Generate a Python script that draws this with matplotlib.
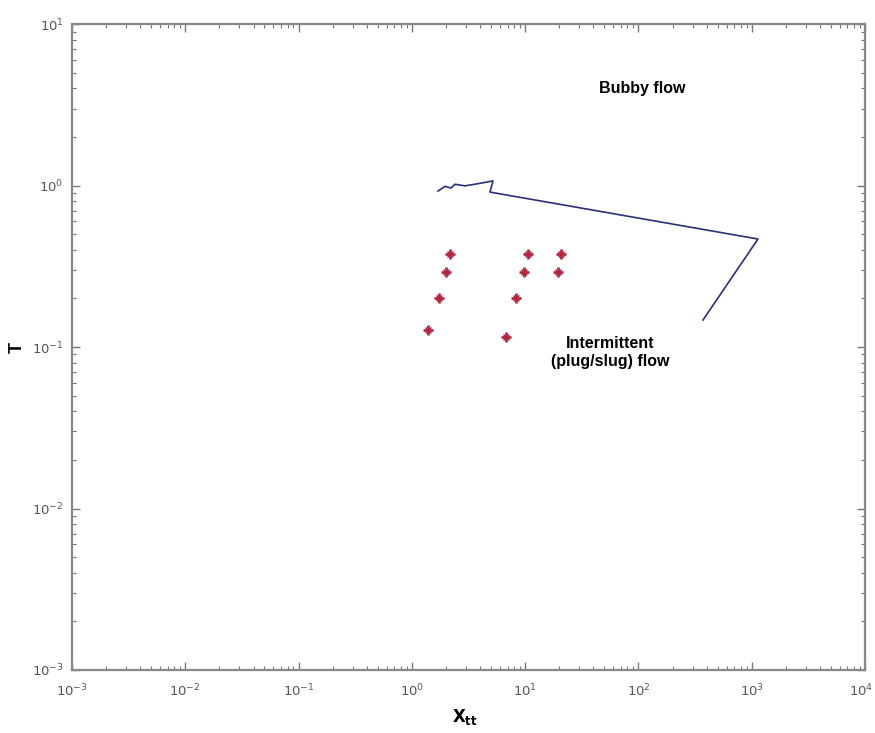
import numpy as np
import matplotlib.pyplot as plt
from matplotlib.ticker import LogLocator, NullFormatter
from matplotlib.transforms import ScaledTranslation

plt.rcParams['font.family'] = ['Liberation Sans', 'DejaVu Sans']

# ── Data ──────────────────────────────────────
# measured points (red markers)
x_pts = [1.39, 1.73, 2.0, 2.17, 6.77, 8.3, 9.75, 10.6, 19.5, 20.7]
T_pts = [0.127, 0.201, 0.291, 0.377, 0.115, 0.201, 0.291, 0.377, 0.291, 0.377]

# transition boundary (blue line)
x_line = [1.70, 1.96, 2.21, 2.40, 2.94, 3.60, 4.51, 5.2, 4.89, 1135, 371]
T_line = [0.925, 0.99, 0.966, 1.02, 0.997, 1.02, 1.05, 1.07, 0.912, 0.467, 0.147]

# axis decades
x_decades = np.arange(-3, 5)
y_decades = np.arange(-3, 2)

fig = plt.figure(figsize=(8.75, 7.33), dpi=100)
ax = fig.add_axes([0.0823, 0.086, 0.9063, 0.881])

ax.plot(x_line, T_line, color="#2b2f78", lw=1.2)
ax.plot(x_pts, T_pts, linestyle="none", marker="+", ms=7, mew=2.0,
        color="#b02840")
ax.plot(x_pts, T_pts, linestyle="none", marker="x", ms=4, mew=1.0,
        color="#b02840")

ax.set_xscale("log")
ax.set_yscale("log")
ax.set_xlim(10.0 ** x_decades[0], 10.0 ** x_decades[-1])
ax.set_ylim(10.0 ** y_decades[0], 10.0 ** y_decades[-1])

ax.set_xticks(10.0 ** x_decades)
ax.set_yticks(10.0 ** y_decades)
ax.set_xticklabels([rf"$10^{{{d}}}$" for d in x_decades])
ax.set_yticklabels([rf"$10^{{{d}}}$" for d in y_decades])
ax.xaxis.set_minor_locator(LogLocator(base=10, subs=np.arange(2, 10), numticks=100))
ax.yaxis.set_minor_locator(LogLocator(base=10, subs=np.arange(2, 10), numticks=100))
ax.xaxis.set_minor_formatter(NullFormatter())
ax.yaxis.set_minor_formatter(NullFormatter())

ax.tick_params(which="both", direction="in", top=True, right=True,
               color="#777777", labelcolor="#555555", labelsize=9.5)
ax.tick_params(which="major", length=6, width=1)
ax.tick_params(which="minor", length=3, width=0.8)
ax.tick_params(axis="x", which="major", pad=9)
ax.tick_params(axis="y", which="major", pad=6)
for s in ax.spines.values():
    s.set_color("#888888")
    s.set_linewidth(1.6)

# keep the last x label inside the figure edge
last = ax.get_xticklabels()[-1]
last.set_transform(last.get_transform() + ScaledTranslation(-0.04, 0, fig.dpi_scale_trans))

ax.text(107, 4.0, "Bubby flow", fontsize=11.5, fontweight="bold",
        ha="center", va="center")
ax.text(56, 0.093, "Intermittent\n(plug/slug) flow", fontsize=11.5,
        fontweight="bold", ha="center", va="center", linespacing=1.25)

ax.set_xlabel(r"$\mathbf{X_{tt}}$", fontsize=12)
ax.set_ylabel("T", fontsize=13, fontweight="bold")
ax.xaxis.set_label_coords(0.495, -0.058)
ax.yaxis.set_label_coords(-0.058, 0.5)

fig.savefig("out.png", dpi=100)
